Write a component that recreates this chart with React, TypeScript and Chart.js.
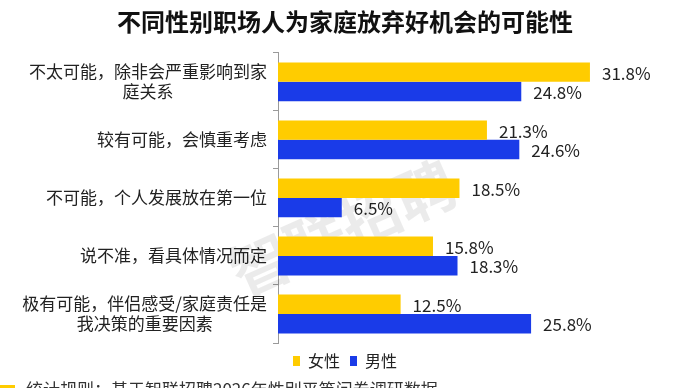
import React, { useEffect, useRef } from 'react';
import { Chart, registerables } from 'chart.js';

Chart.register(...registerables);

const titleText = '不同性别职场人为家庭放弃好机会的可能性';
const categories: string[][] = [
  ['不太可能，除非会严重影响到家', '庭关系'],
  ['较有可能，会慎重考虑'],
  ['不可能，个人发展放在第一位'],
  ['说不准，看具体情况而定'],
  ['极有可能，伴侣感受/家庭责任是', '我决策的重要因素'],
];
const seriesNames = ['女性', '男性'];
const femaleValues = [31.8, 21.3, 18.5, 15.8, 12.5];
const maleValues = [24.8, 24.6, 6.5, 18.3, 25.8];
const footnote = '统计规则：基于智联招聘2026年性别平等问卷调研数据';
const watermark = '智联招聘';

const FONT = '"Noto Sans CJK SC", "Noto Sans", sans-serif';
const YELLOW = '#FFCC00';
const BLUE = '#1A3BE8';

const customPlugin = {
  id: 'customDraw',
  beforeDatasetsDraw(chart: any) {
    const ctx = chart.ctx;
    ctx.save();
    ctx.translate(343, 228);
    ctx.rotate((-24 * Math.PI) / 180);
    ctx.font = `bold 60px ${FONT}`;
    ctx.fillStyle = 'rgba(0,0,0,0.08)';
    ctx.textAlign = 'center';
    ctx.textBaseline = 'middle';
    ctx.fillText(watermark, 0, 0);
    ctx.restore();
  },
  afterDraw(chart: any) {
    const ctx = chart.ctx;
    const yScale = chart.scales.y;
    ctx.save();
    ctx.font = `17px ${FONT}`;
    ctx.fillStyle = '#222';
    ctx.textBaseline = 'middle';
    ctx.textAlign = 'center';
    categories.forEach((lines, i) => {
      const yc = yScale.getPixelForValue(i);
      const w = Math.max(...lines.map((l) => ctx.measureText(l).width));
      const cx = yScale.right - 11 - w / 2;
      const lh = 20;
      lines.forEach((l, j) => {
        ctx.fillText(l, cx, yc + (j - (lines.length - 1) / 2) * lh);
      });
    });
    ctx.textAlign = 'left';
    chart.data.datasets.forEach((ds: any, di: number) => {
      const meta = chart.getDatasetMeta(di);
      meta.data.forEach((bar: any, i: number) => {
        ctx.fillText(Number(ds.data[i]).toFixed(1) + '%', bar.x + 12, bar.y + 1);
      });
    });
    ctx.fillStyle = '#333';
    ctx.fillText(footnote, 26, 390);
    ctx.fillStyle = YELLOW;
    ctx.fillRect(0, 385, 15, 3);
    ctx.restore();
  },
};

export default function App() {
  const ref = useRef<HTMLCanvasElement>(null);
  useEffect(() => {
    if (!ref.current) return;
    const chart = new Chart(ref.current, {
      type: 'bar',
      data: {
        labels: categories.map((c) => c.join('')),
        datasets: [
          {
            label: seriesNames[0],
            data: femaleValues,
            backgroundColor: YELLOW,
            categoryPercentage: 0.67,
            barPercentage: 1.0,
          },
          {
            label: seriesNames[1],
            data: maleValues,
            backgroundColor: BLUE,
            categoryPercentage: 0.67,
            barPercentage: 1.0,
          },
        ],
      },
      options: {
        indexAxis: 'y',
        responsive: false,
        animation: false,
        layout: { padding: { left: 0, right: 0, top: 0, bottom: 9 } },
        scales: {
          x: { display: false, min: 0, max: 42 },
          y: {
            afterFit: (scale: any) => {
              scale.width = 278;
            },
            ticks: { display: false },
            grid: {
              drawOnChartArea: false,
              drawTicks: true,
              tickLength: 5,
              color: '#9a9a9a',
              offset: true,
            },
            border: { display: true, color: '#9a9a9a', width: 1 },
          },
        },
        plugins: {
          title: {
            display: true,
            text: titleText,
            color: '#111',
            font: { family: FONT, size: 24, weight: 'bold' },
            padding: { top: 7, bottom: 17 },
          },
          legend: {
            display: true,
            position: 'bottom',
            labels: {
              boxWidth: 7,
              boxHeight: 10,
              padding: 10,
              color: '#222',
              font: { family: FONT, size: 16 },
            },
          },
          tooltip: { enabled: false },
        },
      },
      plugins: [customPlugin],
    } as any);
    return () => chart.destroy();
  }, []);
  return (
    <div style={{ position: 'absolute', left: 0, top: 0, width: 690, height: 388, overflow: 'hidden', background: '#fff' }}>
      <canvas ref={ref} width={690} height={388} style={{ display: 'block' }} />
    </div>
  );
}
